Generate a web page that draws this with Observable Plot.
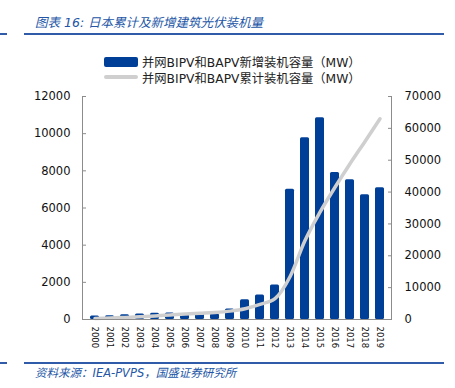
<!DOCTYPE html>
<html><head><meta charset="utf-8">
<script src="https://cdn.jsdelivr.net/npm/d3@7"></script>
<script src="https://cdn.jsdelivr.net/npm/@observablehq/plot@0.6"></script>
<style>
body{margin:0;background:#fff;}
#wrap{position:relative;width:455px;height:388px;overflow:hidden;font-family:"DejaVu Sans","Noto Sans CJK SC",sans-serif;}
.abs{position:absolute;white-space:nowrap;}
.title{left:35px;top:12px;font-size:12.5px;font-style:italic;color:#2356a6;font-family:"DejaVu Sans","Noto Sans CJK SC",sans-serif;}
.hl{height:2px;background:#2f5ba8;}
.src{left:35px;top:364px;font-size:11.5px;font-style:italic;color:#2356a6;}
.leg{font-size:12.3px;color:#222;font-family:"DejaVu Sans","Noto Sans CJK SC",sans-serif;}
</style></head>
<body><div id="wrap"></div>
<script>
const years = ["2000","2001","2002","2003","2004","2005","2006","2007","2008","2009","2010","2011","2012","2013","2014","2015","2016","2017","2018","2019"];
const newInstalled = [190,200,260,290,330,350,300,310,290,560,1060,1320,1850,7010,9780,10850,7910,7520,6710,7090];
const cumulative = [330,450,650,870,1130,1420,1700,1950,2200,2630,3400,4750,6550,13400,24800,33700,41500,48900,55900,63000];
const leftTicks = [0,2000,4000,6000,8000,10000,12000];
const rightTicks = [0,10000,20000,30000,40000,50000,60000,70000];
const seriesNames = ["并网BIPV和BAPV新增装机容量（MW）","并网BIPV和BAPV累计装机容量（MW）"];
const titleText = "图表 16:  日本累计及新增建筑光伏装机量";
const sourceText = "资料来源：IEA-PVPS，国盛证券研究所";

const leftMax = 12000, rightMax = 70000;
const toLeft = v => v * leftMax / rightMax;
const data = years.map((y,i)=>({year:y, nw:newInstalled[i], cum:toLeft(cumulative[i])}));
const barColor = "#003f98", lineColor = "#cfcfcf", axisColor = "#8c8c8c";

const chart = Plot.plot({
  width:455, height:388,
  marginLeft:82, marginRight:64, marginTop:96, marginBottom:69,
  style:{fontFamily:"DejaVu Sans, sans-serif", fontSize:"11px", color:"#111", background:"transparent"},
  x:{type:"band", domain:years, paddingInner:0.42, paddingOuter:0.21},
  y:{domain:[0,leftMax]},
  marks:[
    Plot.barY(data,{x:"year", y:"nw", fill:barColor, rx:1.5}),
    Plot.lineY(data,{x:"year", y:"cum", stroke:lineColor, strokeWidth:3.5, curve:"monotone-x"}),
    Plot.axisY({anchor:"left", ticks:leftTicks, tickSize:0, tickPadding:12, fontSize:11.5, label:null, tickFormat:d=>String(d)}),
    Plot.axisY({anchor:"left", ticks:leftTicks, tickSize:-4, text:null, stroke:axisColor, label:null}),
    Plot.axisY({anchor:"right", ticks:rightTicks.map(toLeft), tickSize:0, tickPadding:13, fontSize:11.5, label:null,
      tickFormat:d=>String(Math.round(d*rightMax/leftMax))}),
    Plot.axisY({anchor:"right", ticks:rightTicks.map(toLeft), tickSize:-4, text:null, stroke:axisColor, label:null}),
    Plot.axisX({anchor:"bottom", tickSize:0, tickPadding:7, tickRotate:90, fontSize:8.5, label:null}),
    Plot.frame({anchor:"left", stroke:axisColor}),
    Plot.frame({anchor:"right", stroke:axisColor}),
    Plot.ruleY([0],{stroke:axisColor})
  ]
});
const wrap = document.getElementById("wrap");
chart.style.position="absolute"; chart.style.left="0"; chart.style.top="0";
wrap.appendChild(chart);

function add(cls, css, text){
  const d=document.createElement("div"); d.className="abs "+cls; d.style.cssText+=css; if(text) d.textContent=text; wrap.appendChild(d); return d;
}
add("title","",titleText);
add("hl","left:0;top:33px;width:7px;");
add("hl","left:24px;top:33px;width:420px;");
add("hl","left:0;top:362px;width:7px;");
add("hl","left:24px;top:362px;width:420px;");
add("src","",sourceText);
// legend
add("","left:104px;top:57px;width:34px;height:10px;border-radius:2px;background:"+barColor+";");
add("leg","left:142px;top:53px;",seriesNames[0]);
add("","left:104px;top:75px;width:34px;height:4px;border-radius:2px;background:"+lineColor+";");
add("leg","left:142px;top:69px;",seriesNames[1]);
</script></body></html>
